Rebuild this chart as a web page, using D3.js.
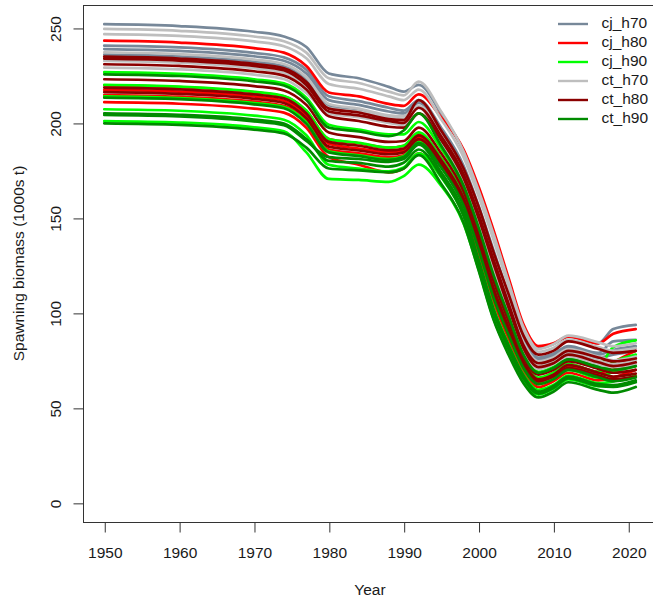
<!DOCTYPE html>
<html>
<head>
<meta charset="utf-8">
<script src="https://cdn.jsdelivr.net/npm/d3@7"></script>
<style>
  html, body { margin: 0; padding: 0; background: #fff; }
  svg { display: block; font-family: "Liberation Sans", Arial, Helvetica, sans-serif; }
</style>
</head>
<body>
<svg id="chart" width="653" height="604"></svg>
<script>
// Years at which each model run's spawning biomass is recorded (1000s t)
const years = [1950, 1960, 1970, 1974, 1977, 1980, 1984, 1988, 1990, 1992, 1995,
               1998, 2000, 2002, 2004, 2006, 2008, 2010, 2012, 2016, 2018, 2021];

const xTicks = [1950, 1960, 1970, 1980, 1990, 2000, 2010, 2020];
const yTicks = [0, 50, 100, 150, 200, 250];

const seriesNames = ["cj_h70", "cj_h80", "cj_h90", "ct_h70", "ct_h80", "ct_h90"];

const cj_h70 = [
  [252, 251, 248, 245.5, 240, 226, 223.5, 219, 216.5, 220, 205, 185, 165, 142, 117, 92.5, 81.5, 83.5, 87.5, 84, 91.5, 93.7],
  [240.7, 239.8, 236.9, 234.5, 228, 214, 211.5, 208, 206.5, 212, 197.5, 177.5, 156.5, 133, 109.5, 86.5, 76.5, 78.5, 82.5, 79, 85, 85.8],
  [238.9, 237.9, 235.1, 232.7, 226, 212, 209.5, 206, 205, 210.5, 196, 176, 155, 131, 108, 85.5, 75.5, 77.5, 82, 78, 80.5, 82.5],
  [236, 235, 232.2, 229.8, 223, 209, 206.5, 203, 202, 208, 193.5, 173.5, 152.5, 128.5, 105.5, 84, 74, 76, 80.5, 76.5, 78, 80]
];

const cj_h80 = [
  [243.3, 242.3, 239.4, 237, 230, 216, 214, 210, 209, 215, 203, 186, 166.5, 143.5, 118.5, 94, 82.5, 84, 87.5, 84, 89, 91.5],
  [219.8, 218.9, 216.2, 214, 206.3, 191.5, 189.3, 187, 188, 194.5, 181.5, 161.5, 139, 114, 93.5, 74.5, 65.5, 68.5, 73, 69, 74, 80],
  [217.4, 216.5, 213.9, 211.7, 204, 189, 186.5, 184.5, 185.5, 192.5, 179.5, 159.5, 137, 112, 91.5, 73, 64.5, 67, 72, 68, 72, 76],
  [214.7, 213.8, 211.2, 209, 201, 186, 184, 182, 183, 190.5, 177.5, 157.5, 134.5, 109.5, 89.5, 71.5, 63, 66, 70.5, 66.5, 70, 73],
  [210.9, 210.1, 207.5, 205.4, 197.5, 182, 178, 174, 176, 184, 172, 153, 131.5, 106, 86.5, 69.5, 61, 64, 68.5, 64.5, 66, 70]
];

const cj_h90 = [
  [226.7, 225.8, 223, 220.8, 213.3, 199, 196.5, 194, 194, 200.5, 186.5, 166.5, 144.5, 120, 98.5, 78.5, 69, 71.5, 76, 72, 82, 85.5],
  [220, 219.1, 216.4, 214.2, 206.5, 191.5, 189.5, 187, 188, 195, 181.5, 161.5, 139, 114, 93.5, 74.5, 66, 68.5, 73, 69, 74, 78],
  [214, 213.1, 210.5, 208.4, 200.5, 185, 183, 181, 182.5, 190, 177, 157, 134, 109, 89, 71, 62.5, 65.5, 70, 66, 69, 72],
  [207.2, 206.4, 203.8, 201.7, 193.5, 178, 176, 174.5, 176.5, 184, 171.5, 151.5, 128, 102.5, 83.5, 67.5, 59.5, 62, 67, 63, 64, 67],
  [201, 200.2, 197.7, 195.6, 184.5, 170.5, 170, 169, 172, 178, 167, 147, 123, 97, 79, 64.5, 57, 60, 65, 61.5, 61.5, 64]
];

const ct_h70 = [
  [249.5, 248.5, 245.5, 243, 237, 223.5, 221, 216.5, 214.5, 221.7, 206, 185, 164.5, 141.5, 116.5, 92.5, 81, 83.5, 88, 84.5, 82.5, 84],
  [246.7, 245.8, 242.9, 240.4, 234, 220.5, 218, 214, 212, 217.5, 202, 182, 161.5, 138.5, 114, 90, 79.5, 81.5, 86, 82, 80, 81.5],
  [237.2, 236.2, 233.4, 231, 224, 210, 207.5, 204, 203.5, 209, 194.5, 174.5, 153.5, 129.5, 106.5, 84.5, 74.5, 76.5, 81, 77, 75, 77],
  [232.6, 231.7, 228.8, 226.5, 219.3, 208, 206, 203, 202, 208, 191, 171, 149.5, 125.5, 103, 82, 72, 74.5, 79, 75, 73, 75],
  [229.1, 228.2, 225.4, 223.1, 215.7, 205, 203, 200, 199, 205, 188.5, 168.5, 146.5, 122.5, 100.5, 80, 70.5, 73, 77, 73, 71.5, 73]
];

const ct_h80 = [
  [234.9, 233.9, 231.1, 228.8, 221.6, 207.5, 205.5, 202, 201.5, 212, 196, 176, 156, 132, 110, 88, 78, 80, 85, 81, 79, 80],
  [233.8, 232.8, 230, 227.7, 220, 206, 204, 201, 200, 208, 193, 173, 152, 128, 105, 83, 73.5, 75.5, 80, 76.5, 74.5, 76],
  [230.9, 230, 227.2, 224.9, 217.6, 203.5, 201, 198, 197.5, 205, 191, 171, 150, 126, 103, 81.5, 71.5, 73.5, 78, 74, 72, 74],
  [223, 222.1, 219.4, 217.1, 209.5, 195, 192.5, 190, 190.5, 197.5, 184, 164, 141.5, 117, 96, 76.5, 67.5, 70, 74.5, 70.5, 68.5, 70],
  [218.6, 217.7, 215, 212.9, 205, 190, 188, 185.5, 186.5, 193.5, 180.5, 160.5, 138, 113, 92.5, 74, 65, 67.5, 72.5, 68.5, 66.5, 68],
  [216.2, 215.3, 212.7, 210.5, 202.5, 187.5, 185.5, 183.5, 184.5, 191.5, 178.5, 158.5, 136, 111, 90.5, 72.5, 64, 66.5, 71, 67, 65, 66.5]
];

const ct_h90 = [
  [225.6, 224.7, 221.9, 219.7, 212, 197.5, 195.5, 193, 196, 205, 188, 167, 145, 120, 98.5, 78, 68.5, 71, 75.5, 71.5, 70, 72],
  [213.3, 212.5, 209.8, 207.7, 199.5, 184.5, 182.5, 180.5, 182, 189.5, 176.5, 156.5, 133.5, 108, 88.5, 71, 62.5, 65, 70, 66, 64, 66],
  [205.1, 204.3, 201.8, 199.7, 191.5, 180, 179, 177, 179, 186, 172, 151, 126, 100, 81, 65.5, 57.5, 60.5, 65.5, 61.5, 61, 63.5],
  [204.2, 203.4, 200.8, 198.8, 190.5, 182, 181, 179.5, 181, 188.5, 174, 153.5, 128, 102, 83, 67, 58.5, 61.5, 66.5, 62.5, 62, 64.5],
  [199.8, 199, 196.5, 194.5, 187, 176, 175, 174, 176, 183, 168, 147.5, 122.5, 96.5, 78, 63, 55.5, 58.5, 63.5, 59.5, 58, 61]
];

const runsBySeries = [cj_h70, cj_h80, cj_h90, ct_h70, ct_h80, ct_h90];
const palette = ["#778899", "#ff0000", "#00ff00", "#bebebe", "#8b0000", "#008b00"];

// ---- layout ----
const W = 653, H = 604;
const plot = { left: 83, right: 657, top: 5, bottom: 522 };
const textColor = "#1a1a1a";
const axisColor = "#333";
const fontSize = 15.5;

const svg = d3.select("#chart");

// R-style 4% padding around the data range
const xPad = 0.04 * (2021 - 1950);
const yMax = 252;
const x = d3.scaleLinear()
  .domain([1950 - xPad, 2021 + xPad])
  .range([plot.left, plot.right]);
const y = d3.scaleLinear()
  .domain([-0.04 * yMax, yMax * 1.04])
  .range([plot.bottom, plot.top]);

svg.append("defs").append("clipPath").attr("id", "plot-clip")
  .append("rect")
  .attr("x", plot.left).attr("y", plot.top)
  .attr("width", plot.right - plot.left).attr("height", plot.bottom - plot.top);

const line = d3.line()
  .x((d, i) => x(years[i]))
  .y(d => y(d))
  .curve(d3.curveMonotoneX);

const linesG = svg.append("g").attr("clip-path", "url(#plot-clip)");
runsBySeries.forEach((runs, s) => {
  linesG.append("g")
    .selectAll("path")
    .data(runs)
    .join("path")
    .attr("d", line)
    .attr("fill", "none")
    .attr("stroke", palette[s])
    .attr("stroke-width", 2.7)
    .attr("stroke-linejoin", "round")
    .attr("stroke-linecap", "round");
});

// plot frame
svg.append("rect")
  .attr("x", plot.left + 0.5).attr("y", plot.top + 0.5)
  .attr("width", plot.right - plot.left).attr("height", plot.bottom - plot.top)
  .attr("fill", "none").attr("stroke", axisColor).attr("stroke-width", 1);

// x axis
const gx = svg.append("g")
  .attr("transform", `translate(0.5,${plot.bottom + 0.5})`)
  .call(d3.axisBottom(x).tickValues(xTicks).tickSize(10).tickFormat(d3.format("d")));
gx.select(".domain").remove();
gx.selectAll(".tick line").attr("stroke", axisColor);
gx.selectAll(".tick text")
  .attr("y", 30).attr("dy", "0.35em")
  .attr("fill", textColor)
  .style("font-size", fontSize + "px")
  .style("font-family", "'Liberation Sans', Arial, sans-serif");

// y axis with labels parallel to the axis
const gy = svg.append("g")
  .attr("transform", `translate(${plot.left + 0.5},0.5)`)
  .call(d3.axisLeft(y).tickValues(yTicks).tickSize(10));
gy.select(".domain").remove();
gy.selectAll(".tick line").attr("stroke", axisColor);
gy.selectAll(".tick text")
  .attr("x", null).attr("dy", "0.35em")
  .attr("text-anchor", "middle")
  .attr("transform", "translate(-28,0) rotate(-90)")
  .attr("fill", textColor)
  .style("font-size", fontSize + "px")
  .style("font-family", "'Liberation Sans', Arial, sans-serif");

// axis titles
svg.append("text")
  .attr("x", (plot.left + plot.right) / 2).attr("y", 590)
  .attr("dy", "0.35em").attr("text-anchor", "middle")
  .attr("fill", textColor).style("font-size", fontSize + "px")
  .text("Year");

svg.append("text")
  .attr("transform", `translate(19,${(plot.top + plot.bottom) / 2}) rotate(-90)`)
  .attr("dy", "0.35em").attr("text-anchor", "middle")
  .attr("fill", textColor).style("font-size", fontSize + "px")
  .text("Spawning biomass (1000s t)");

// legend
const legend = svg.append("g");
seriesNames.forEach((name, i) => {
  const ly = 24 + 19 * i;
  legend.append("line")
    .attr("x1", 558).attr("x2", 588).attr("y1", ly).attr("y2", ly)
    .attr("stroke", palette[i]).attr("stroke-width", 2.4);
  legend.append("text")
    .attr("x", 601.5).attr("y", ly - 1).attr("dy", "0.35em")
    .attr("fill", textColor).style("font-size", fontSize + "px")
    .text(name);
});
</script>
</body>
</html>
